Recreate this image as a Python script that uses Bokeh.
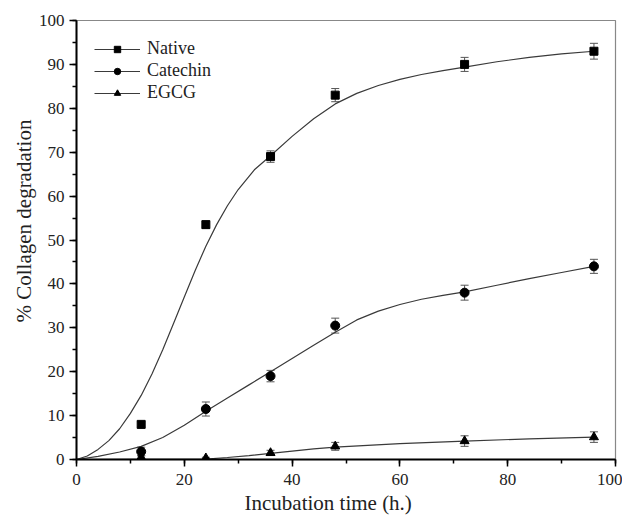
from bokeh.plotting import figure
from bokeh.models import (ColumnDataSource, Whisker, TeeHead, SingleIntervalTicker,
                          Legend, LegendItem, Range1d, Title)
from bokeh.embed import file_html
from bokeh.resources import INLINE

# ---- measured points ----
time_h = [12, 24, 36, 48, 72, 96]
native = [8.0, 53.5, 69.0, 83.0, 90.0, 93.0]
native_err = [0.6, 0.8, 1.3, 1.5, 1.6, 1.8]
catechin = [1.8, 11.5, 19.0, 30.5, 38.0, 44.0]
catechin_err = [1.0, 1.6, 1.3, 1.7, 1.7, 1.6]
egcg = [0.5, 0.3, 1.5, 3.0, 4.2, 5.1]
egcg_err = [0.4, 0.2, 0.6, 0.9, 1.2, 1.2]

# ---- fitted curves ----
native_fit_x = [0, 2, 4, 6, 8, 10, 12, 14, 16, 18, 20, 22, 24, 26, 28, 30, 33, 36,
                40, 44, 48, 52, 56, 60, 64, 68, 72, 78, 84, 90, 96]
native_fit_y = [0, 0.8, 2.3, 4.3, 7.0, 10.5, 14.6, 19.5, 25.0, 31.0, 37.0, 43.0, 48.6,
                53.5, 57.8, 61.5, 66.0, 69.2, 73.6, 77.6, 81.0, 83.4, 85.2, 86.6,
                87.7, 88.6, 89.4, 90.6, 91.6, 92.4, 93.0]
catechin_fit_x = [0, 4, 8, 12, 16, 20, 24, 28, 32, 36, 40, 44, 48, 52, 56, 60, 64, 68,
                  72, 78, 84, 90, 96]
catechin_fit_y = [0, 0.7, 1.7, 3.0, 5.0, 7.8, 11.0, 14.0, 17.0, 20.0, 23.0, 26.0, 29.0,
                  31.8, 33.8, 35.3, 36.5, 37.4, 38.2, 39.7, 41.2, 42.6, 44.0]
egcg_fit_x = [0, 24, 28, 32, 36, 40, 44, 48, 54, 60, 66, 72, 84, 96]
egcg_fit_y = [0, 0.1, 0.45, 0.9, 1.4, 1.9, 2.4, 2.8, 3.2, 3.6, 3.9, 4.2, 4.7, 5.1]

x_ticks_interval = 20
y_ticks_interval = 10
x_title = "Incubation time (h.)"
y_title = "% Collagen degradation"

SERIF = "Liberation Serif"
CURVE = "#3a3a3a"
ERR = "#555555"

p = figure(width=622, height=515, output_backend="svg", toolbar_location=None,
           x_range=Range1d(0, 100), y_range=Range1d(0, 100),
           min_border_left=76, min_border_right=7, min_border_top=20, min_border_bottom=56)
p.xgrid.visible = False
p.ygrid.visible = False
p.outline_line_color = "#888888"
p.outline_line_width = 1.2
p.background_fill_color = "white"
p.border_fill_color = "white"

p.xaxis.ticker = SingleIntervalTicker(interval=x_ticks_interval, num_minor_ticks=2)
p.yaxis.ticker = SingleIntervalTicker(interval=y_ticks_interval, num_minor_ticks=2)
for ax in (p.xaxis, p.yaxis):
    ax.axis_line_width = 2
    ax.axis_line_color = "black"
    ax.major_tick_out = 7
    ax.major_tick_in = 0
    ax.minor_tick_out = 4
    ax.minor_tick_in = 0
    ax.major_tick_line_width = 1.5
    ax.minor_tick_line_width = 1.5
    ax.major_tick_line_color = "black"
    ax.minor_tick_line_color = "black"
    ax.major_label_text_font = SERIF
    ax.major_label_text_font_size = "17px"
    ax.major_label_text_color = "#222222"
p.xaxis.major_label_standoff = 7
p.yaxis.major_label_standoff = 5

# axis titles as positioned titles
tx = Title(text=x_title, align="left", offset=168, text_font=SERIF,
           text_font_size="21px", text_font_style="normal", text_color="#222222",
           standoff=2)
p.add_layout(tx, "below")
ty = Title(text=y_title, align="left", offset=137, text_font=SERIF,
           text_font_size="21px", text_font_style="normal", text_color="#222222",
           standoff=0)
p.add_layout(ty, "left")

# curves
ln = p.line(native_fit_x, native_fit_y, line_color=CURVE, line_width=1.2)
lc = p.line(catechin_fit_x, catechin_fit_y, line_color=CURVE, line_width=1.2)
le = p.line(egcg_fit_x, egcg_fit_y, line_color=CURVE, line_width=1.2)

# error bars + markers
def series(vals, errs, marker, size):
    src = ColumnDataSource(dict(x=time_h, y=vals,
                                lo=[v - e for v, e in zip(vals, errs)],
                                hi=[v + e for v, e in zip(vals, errs)]))
    w = Whisker(source=src, base="x", lower="lo", upper="hi", dimension="height",
                line_color=ERR, line_width=1,
                upper_head=TeeHead(size=8, line_color=ERR, line_width=1),
                lower_head=TeeHead(size=8, line_color=ERR, line_width=1))
    p.add_layout(w)
    return p.scatter("x", "y", source=src, marker=marker, size=size,
                     fill_color="black", line_color="black")

sn = series(native, native_err, "square", 8)
sc = series(catechin, catechin_err, "circle", 9)
se = series(egcg, egcg_err, "triangle", 9)

legend = Legend(items=[LegendItem(label="Native", renderers=[ln, sn]),
                       LegendItem(label="Catechin", renderers=[lc, sc]),
                       LegendItem(label="EGCG", renderers=[le, se])],
                location="top_left")
legend.glyph_width = 46
legend.glyph_height = 16
legend.label_height = 16
legend.spacing = 1
legend.label_standoff = 7
legend.padding = 18
legend.margin = 18
legend.border_line_color = None
legend.background_fill_alpha = 0
legend.label_text_font = SERIF
legend.label_text_font_size = "18px"
legend.label_text_color = "#222222"
p.add_layout(legend)

open("out.html", "w").write(file_html(p, INLINE))
